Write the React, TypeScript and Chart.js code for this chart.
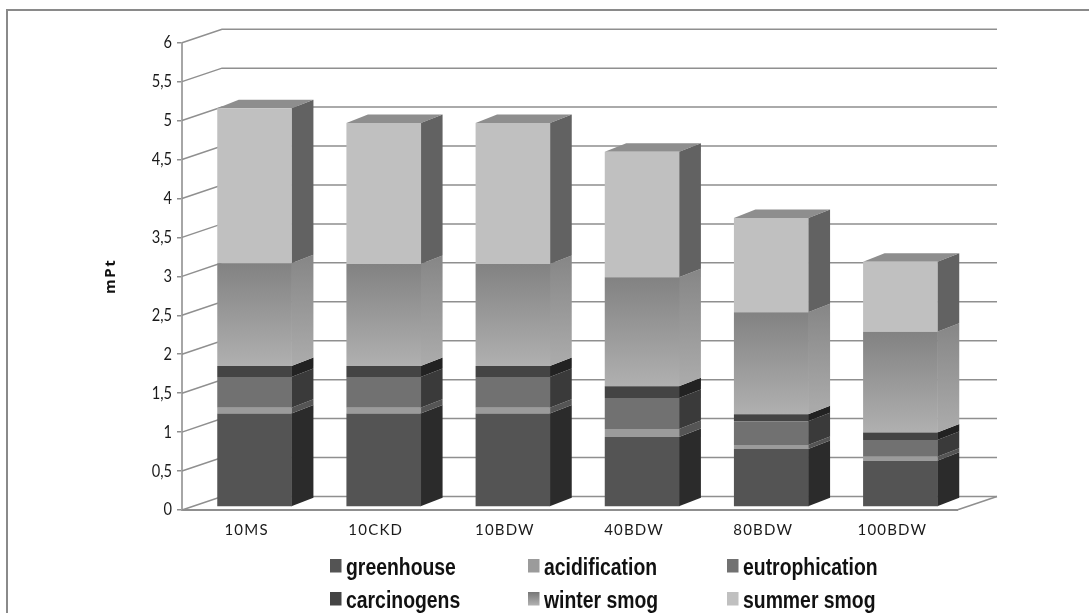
import React, { useEffect, useRef } from "react";
import { Chart, registerables } from "chart.js";

Chart.register(...registerables);

const categories = ["10MS", "10CKD", "10BDW", "40BDW", "80BDW", "100BDW"];
const greenhouse = [1.2, 1.2, 1.2, 0.9, 0.745, 0.595];
const acidification = [0.075, 0.075, 0.075, 0.1, 0.05, 0.05];
const eutrophication = [0.395, 0.395, 0.395, 0.4, 0.305, 0.215];
const carcinogens = [0.14, 0.14, 0.14, 0.15, 0.09, 0.095];
const winterSmog = [1.32, 1.31, 1.31, 1.4, 1.31, 1.295];
const summerSmog = [1.99, 1.81, 1.81, 1.61, 1.21, 0.9];

const seriesNames = ["greenhouse", "acidification", "eutrophication", "carcinogens", "winter smog", "summer smog"];
const seriesValues = [greenhouse, acidification, eutrophication, carcinogens, winterSmog, summerSmog];

// Face shades per series: front, side.
const frontShades = ["#545454", "#9b9b9b", "#717171", "#444444", "", "#c0c0c0"];
const sideShades = ["#2b2b2b", "#555555", "#3a3a3a", "#222222", "", "#626262"];
const TOP_SHADE = "#8e8e8e";
const WINTER_STOPS = ["#828282", "#b0b0b0"];
const WINTER_SIDE_STOPS = ["#868686", "#a9a9a9"];

// Oblique projection: the wall sits behind the axes, the bars halfway between.
const WALL_DX = 40;
const WALL_DY = -13.5;
const BAR_SHIFT_X = 8;
const BAR_SHIFT_Y = -3;
const BAR_DX = 21.5;
const BAR_DY = -8.5;
const GRID_COLOR = "#8f8f8f";
const AXIS_COLOR = "#a6a6a6";

const LEGEND_COLS = [330, 528, 727];
const LEGEND_ROWS = [559, 592];

const verticalGradient = (ctx: CanvasRenderingContext2D, top: number, bottom: number, stops: string[]) => {
  const g = ctx.createLinearGradient(0, top, 0, bottom);
  g.addColorStop(0, stops[0]);
  g.addColorStop(1, stops[1]);
  return g;
};

const stackBelow = (seriesIndex: number, i: number) => {
  let sum = 0;
  for (let s = 0; s < seriesIndex; s++) sum += seriesValues[s][i];
  return sum;
};

const frame3d = {
  id: "frame3d",
  beforeDraw(chart: any) {
    const { ctx, scales } = chart;
    // Narrow the value labels about their right edge and track out the category labels.
    if (!scales.y._wrapped) {
      scales.y._wrapped = true;
      const yLabels = scales.y.drawLabels;
      scales.y.drawLabels = function (area: any) {
        ctx.save();
        ctx.translate(172, 0);
        ctx.scale(0.86, 1);
        ctx.translate(-172, 0);
        yLabels.call(this, area);
        ctx.restore();
      };
      const yTitle = scales.y.drawTitle;
      scales.y.drawTitle = function (area: any) {
        ctx.save();
        ctx.letterSpacing = "1.5px";
        yTitle.call(this, area);
        ctx.restore();
      };
      const xLabels = scales.x.drawLabels;
      scales.x.drawLabels = function (area: any) {
        ctx.save();
        ctx.letterSpacing = "1.2px";
        xLabels.call(this, area);
        ctx.restore();
      };
    }
    // Outer chart border, top and left only.
    ctx.save();
    ctx.strokeStyle = "#8a8a8a";
    ctx.lineWidth = 2;
    ctx.beginPath();
    ctx.moveTo(7, 613);
    ctx.lineTo(7, 10);
    ctx.lineTo(1089, 10);
    ctx.stroke();
    ctx.restore();
  },
  beforeDatasetsDraw(chart: any) {
    const { ctx, scales, chartArea } = chart;
    const left = chartArea.left;
    const right = chartArea.right;

    ctx.save();
    ctx.strokeStyle = GRID_COLOR;
    ctx.lineWidth = 1.5;
    for (const tick of scales.y.ticks) {
      const y = scales.y.getPixelForValue(tick.value);
      ctx.beginPath();
      ctx.moveTo(left, y);
      ctx.lineTo(left + WALL_DX, y + WALL_DY);
      ctx.lineTo(right + WALL_DX, y + WALL_DY);
      ctx.stroke();
    }
    // Right end of the floor.
    const y0 = scales.y.getPixelForValue(0);
    ctx.beginPath();
    ctx.moveTo(right, y0);
    ctx.lineTo(right + WALL_DX, y0 + WALL_DY);
    ctx.stroke();
    ctx.restore();

    // Bars stand inside the floor, so shift the whole stack off the axis plane.
    ctx.save();
    ctx.translate(BAR_SHIFT_X, BAR_SHIFT_Y);
    seriesNames.forEach((_, s) => {
      const meta = chart.getDatasetMeta(s);
      meta.data.forEach((bar: any) => {
        const x1 = bar.x + bar.width / 2;
        const top = bar.y;
        const bottom = bar.base;
        ctx.fillStyle =
          s === 4
            ? verticalGradient(ctx, top + BAR_DY, bottom + BAR_DY, WINTER_SIDE_STOPS)
            : sideShades[s];
        ctx.beginPath();
        ctx.moveTo(x1 - 0.5, top);
        ctx.lineTo(x1 + BAR_DX, top + BAR_DY);
        ctx.lineTo(x1 + BAR_DX, bottom + BAR_DY);
        ctx.lineTo(x1 - 0.5, bottom);
        ctx.closePath();
        ctx.fill();
        if (s === seriesNames.length - 1) {
          const x0 = bar.x - bar.width / 2;
          ctx.fillStyle = TOP_SHADE;
          ctx.beginPath();
          ctx.moveTo(x0, top);
          ctx.lineTo(x0 + BAR_DX, top + BAR_DY);
          ctx.lineTo(x1 + BAR_DX, top + BAR_DY);
          ctx.lineTo(x1, top);
          ctx.closePath();
          ctx.fill();
        }
      });
    });
  },
  afterDatasetsDraw(chart: any) {
    chart.ctx.restore();
  },
  afterDraw(chart: any) {
    // Three-column legend below the axis; the glyphs run tall.
    const { ctx } = chart;
    ctx.save();
    seriesNames.forEach((name, s) => {
      const x = LEGEND_COLS[s % 3];
      const y = LEGEND_ROWS[Math.floor(s / 3)];
      ctx.fillStyle =
        s === 4 ? verticalGradient(ctx, y, y + 13, ["#777777", "#b0b0b0"]) : frontShades[s];
      ctx.fillRect(x, y, 11.5, 13.5);
      ctx.save();
      ctx.translate(x + 16, y + 15.5);
      ctx.scale(1, 1.28);
      ctx.fillStyle = "#111111";
      ctx.font = "bold 19.4px 'Liberation Sans'";
      ctx.textBaseline = "alphabetic";
      ctx.fillText(name, 0, 0);
      ctx.restore();
    });
    ctx.restore();
  },
};

export default function App() {
  const ref = useRef<HTMLCanvasElement>(null);

  useEffect(() => {
    const canvas = ref.current!;
    const chart = new Chart(canvas, {
      type: "bar",
      data: {
        labels: categories,
        datasets: seriesNames.map((label, s) => ({
          label,
          data: seriesValues[s],
          clip: false,
          barPercentage: 0.578,
          categoryPercentage: 1,
          backgroundColor:
            s === 4
              ? (c: any) => {
                  const y = c.chart.scales.y;
                  if (c.dataIndex === undefined || !y) return WINTER_STOPS[0];
                  const below = stackBelow(4, c.dataIndex);
                  const value = seriesValues[4][c.dataIndex];
                  const top = y.getPixelForValue(below + value);
                  const bottom = y.getPixelForValue(below);
                  if (!isFinite(top) || !isFinite(bottom)) return WINTER_STOPS[0];
                  return verticalGradient(c.chart.ctx, top, bottom, WINTER_STOPS);
                }
              : frontShades[s],
          borderWidth: 0,
        })),
      } as any,
      options: {
        responsive: false,
        animation: false,
        layout: { padding: { left: 94, top: 42.7, right: 132, bottom: 70 } },
        plugins: { legend: { display: false }, tooltip: { enabled: false } },
        scales: {
          x: {
            stacked: true,
            afterFit: (s: any) => {
              s.height = 33;
            },
            grid: { display: false },
            border: { display: true, color: GRID_COLOR, width: 2 },
            ticks: {
              color: "#1a1a1a",
              padding: 3,
              maxRotation: 0,
              autoSkip: false,
              font: { family: "Lato", size: 15 },
            },
          },
          y: {
            stacked: true,
            min: 0,
            max: 6,
            afterFit: (s: any) => {
              s.width = 88;
            },
            grid: { drawOnChartArea: false, drawTicks: true, tickLength: 5, color: GRID_COLOR, lineWidth: 1.5 },
            border: { display: true, color: AXIS_COLOR, width: 2 },
            title: {
              display: true,
              text: "mPt",
              color: "#111111",
              padding: { top: 8, bottom: 0 },
              font: { family: "Open Sans", weight: "bold", size: 15 },
            },
            ticks: {
              stepSize: 0.5,
              padding: 5,
              color: "#1a1a1a",
              font: { family: "Lato", size: 17 },
              callback: (v: any) => String(v).replace(".", ","),
            },
          },
        },
      } as any,
      plugins: [frame3d as any],
    });
    return () => chart.destroy();
  }, []);

  return (
    <div style={{ position: "fixed", left: 0, top: 0 }}>
      <canvas ref={ref} width={1089} height={613} style={{ display: "block" }} />
    </div>
  );
}
